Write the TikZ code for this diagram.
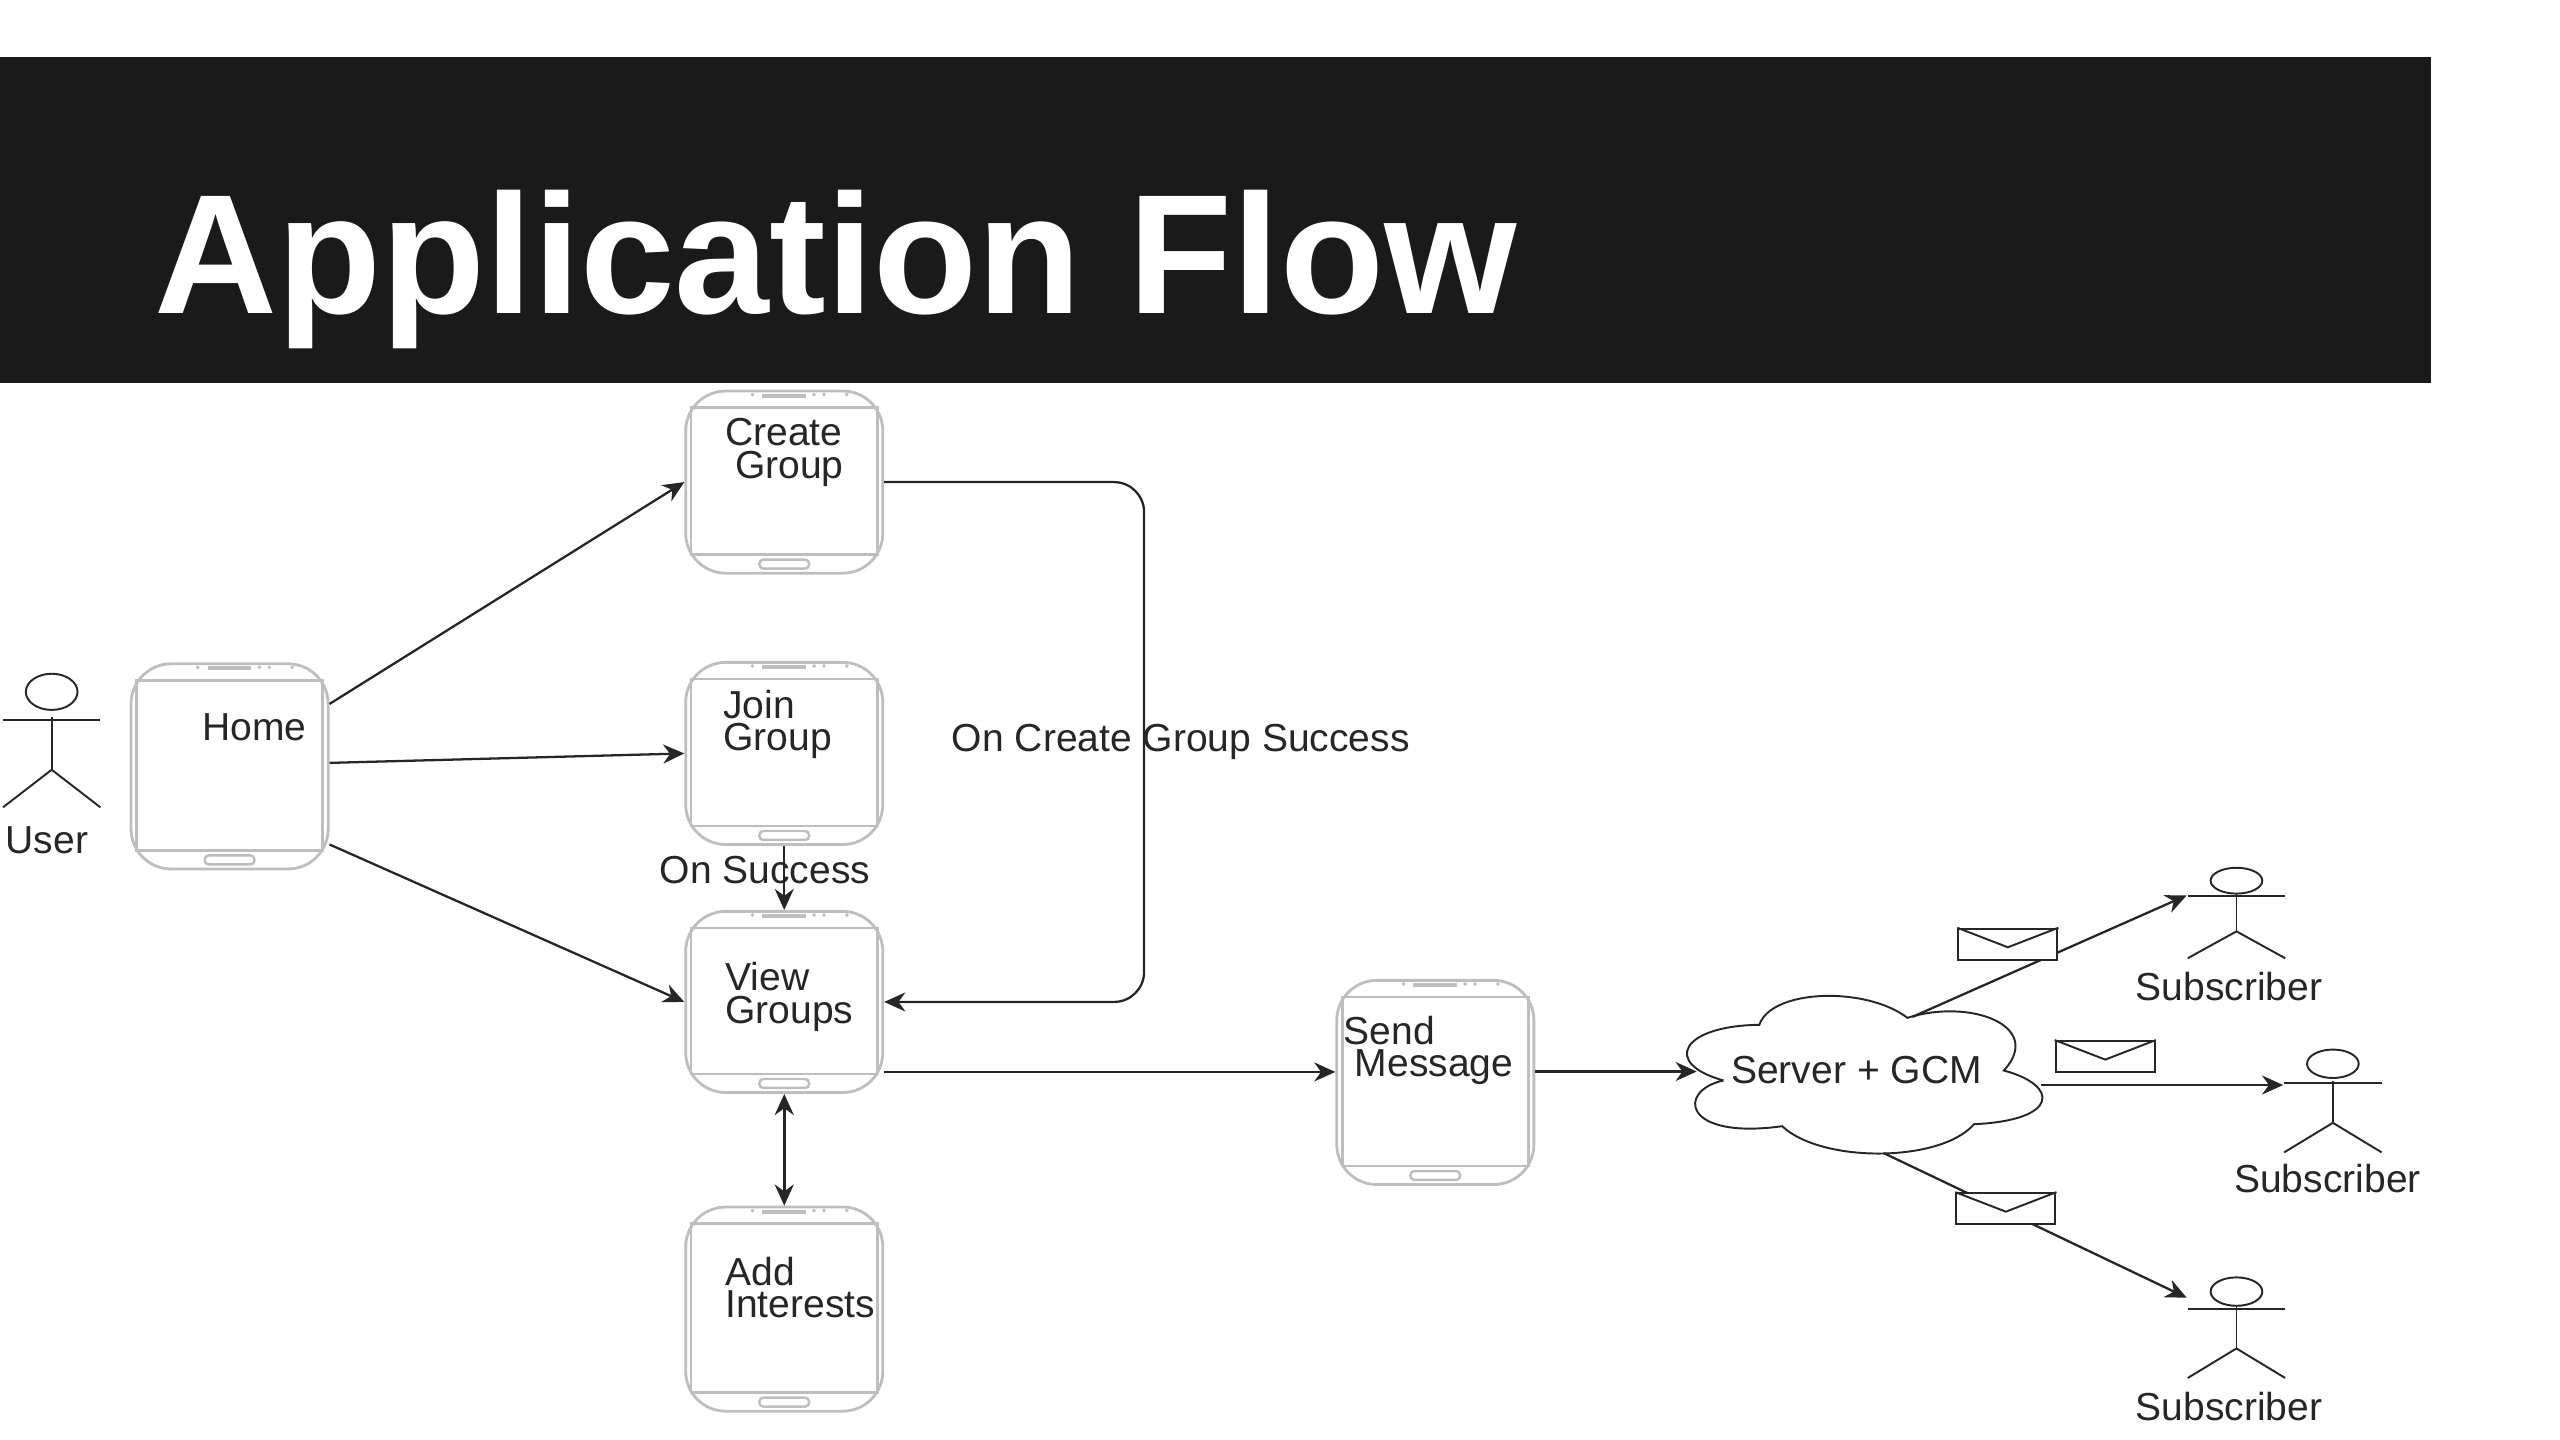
\documentclass[tikz,border=0pt]{standalone}
\usepackage{fontspec}
\setmainfont{Liberation Sans}
\usetikzlibrary{calc,arrows.meta}
\definecolor{barblack}{HTML}{1A1A1A}
\definecolor{inkdark}{HTML}{262626}
\definecolor{phonegray}{HTML}{BEBEBE}
\tikzset{
  flow/.style={draw=inkdark,line width=0.65pt,-{Stealth[length=6pt,width=5.4pt]}},
  twoway/.style={draw=inkdark,line width=0.9pt,{Stealth[length=6pt,width=5.4pt]}-{Stealth[length=6pt,width=5.4pt]}},
  txt/.style={font=\fontsize{11.1}{9.2}\selectfont,text=inkdark,inner sep=0pt,anchor=west,align=left},
  phonebox/.style={draw=phonegray,line width=0.8pt,rounded corners=0.4cm,minimum width=1.97cm,inner sep=0pt},
  phoneline/.style={draw=phonegray,line width=0.7pt},
  actorbox/.style={minimum width=0.98cm,minimum height=0.91cm,inner sep=0pt},
  actorline/.style={draw=inkdark,line width=0.55pt},
  mailbox/.style={draw=inkdark,line width=0.6pt,fill=white,minimum width=0.99cm,minimum height=0.31cm,inner sep=0pt},
}
\newcommand{\phonebits}[1]{%
  \draw[phoneline] ($(#1.north west)+(7,18)$) rectangle ($(#1.south east)+(-7,-20)$);
  \draw[phoneline,line width=1.1pt] ($(#1.north)+(-22,6)$) -- ++(44,0);
  \foreach \dx in {-32,30,40,63} \fill[phonegray] ($(#1.north)+(\dx,5)$) circle (2);
  \draw[phoneline,rounded corners=0.04cm] ($(#1.south)+(-25,-15)$) rectangle ++(50,9);
}
\newcommand{\actorfig}[5]{%
  \begin{scope}[shift={(#2,#3)},yscale=#4]
    \node[actorbox] (#1) at (0,18) {};
    \draw[actorline] (0,#5) ellipse (26 and 13);
    \draw[actorline] (-49,0) -- (49,0);
    \draw[actorline] (0,-2) -- (0,36);
    \draw[actorline] (-49,63) -- (0,36) -- (49,63);
  \end{scope}
}
\newcommand{\mailflap}[1]{%
  \draw[actorline] (#1.north west) -- ($(#1.center)+(0,3)$) -- (#1.north east);
}
\begin{document}
\begin{tikzpicture}[x=0.00994cm,y=-0.00994cm]
  \useasboundingbox (0,0) rectangle (2575.5,1448.7);
  \node[fill=barblack,minimum width=24.35cm,minimum height=3.25cm,inner sep=0pt,anchor=north west] (topbar) at (-6,57) {};
  \node[font=\fontsize{48.4}{50}\selectfont\bfseries,text=white,inner sep=0pt,anchor=base west] (title) at (155,315) {Application Flow};

  % phones
  \node[phonebox,minimum height=2.05cm] (home) at (231,771) {};
  \node[phonebox,minimum height=1.82cm] (create) at (789,485) {};
  \node[phonebox,minimum height=1.82cm] (join) at (789,758) {};
  \node[phonebox,minimum height=1.81cm] (view) at (789,1008) {};
  \node[phonebox,minimum height=2.04cm] (add) at (789,1317) {};
  \node[phonebox,minimum height=2.04cm] (send) at (1444,1089) {};
  \phonebits{home}
  \phonebits{create}
  \phonebits{join}
  \phonebits{view}
  \phonebits{add}
  \phonebits{send}

  % cloud
  \node[inner sep=0pt,minimum width=3.58cm,minimum height=1.6cm] (cloud) at (1875,1080) {};
  \draw[actorline] (1734,1087) .. controls (1672,1070) and (1691,1032) .. (1770,1031)
    .. controls (1782,995) and (1877,992) .. (1919,1024)
    .. controls (1982,1004) and (2057,1032) .. (2016,1077)
    .. controls (2072,1092) and (2072,1127) .. (1986,1131)
    .. controls (1952,1170) and (1832,1170) .. (1793,1133)
    .. controls (1692,1147) and (1687,1097) .. (1734,1087);
  \coordinate (cloudleft) at (1707,1078);
  \coordinate (cloudtop) at (1924,1023);
  \coordinate (cloudright) at (2053,1090);
  \coordinate (cloudbot) at (1895,1160);

  % actors
  \actorfig{user}{52}{724}{1.4}{-20}
  \actorfig{subone}{2250}{901}{1}{-15}
  \actorfig{subtwo}{2347}{1090}{1.1}{-18}
  \actorfig{subthree}{2250}{1317}{1.1}{-16}

  % bend of the success line
  \coordinate (bendtop) at (1151,485);
  \coordinate (bendbot) at (1151,1008);

  \draw[flow] (home.32) -- (create.west);
  \draw[flow] (home.2) -- (join.west);
  \draw[flow] (home.-38) -- (view.west);
  \draw[flow] (join.south) -- (view.north);
  \draw[flow,rounded corners=0.3cm] (create.east) -- (bendtop) -- (bendbot) -- (view.east);
  \draw[flow] (view.-35.4) -- (view.-35.4 -| send.west);
  \draw[twoway] (view.south) -- (add.north);
  \draw[flow] (send.east |- cloudleft) -- (cloudleft);
  \draw[flow] (cloudtop) -- (subone.160);
  \draw[flow] (cloudright |- subtwo.160) -- (subtwo.160);
  \draw[flow] (cloudbot) -- (subthree.148);

  % envelopes
  \node[mailbox] (mailone) at (2020,950) {};
  \node[mailbox] (mailtwo) at (2118,1063) {};
  \node[mailbox] (mailthree) at (2018,1216) {};
  \mailflap{mailone}
  \mailflap{mailtwo}
  \mailflap{mailthree}

  % labels
  \node[txt] (homelabel) at (203,732) {Home};
  \node[txt] (createlabel) at (729,455) {Create\\\hspace{2.8pt}Group};
  \node[txt] (joinlabel) at (727,729) {Join\\Group};
  \node[txt] (viewlabel) at (729,1003) {View\\Groups};
  \node[txt] (addlabel) at (729,1295) {Add\\Interests};
  \node[txt] (sendlabel) at (1351,1057) {Send\\\hspace{3.2pt}Message};
  \node[txt] (userlabel) at (5,845) {User};
  \node[txt] (oncreate) at (957,746) {On Create Group Success};
  \node[txt] (onsuccess) at (663,875) {On Success};
  \node[txt] (cloudlabel) at (1741,1077) {Server + GCM};
  \node[txt] (suboneel) at (2148,993) {Subscriber};
  \node[txt] (subtwol) at (2247,1186) {Subscriber};
  \node[txt] (subthreel) at (2148,1415) {Subscriber};
\end{tikzpicture}
\end{document}
